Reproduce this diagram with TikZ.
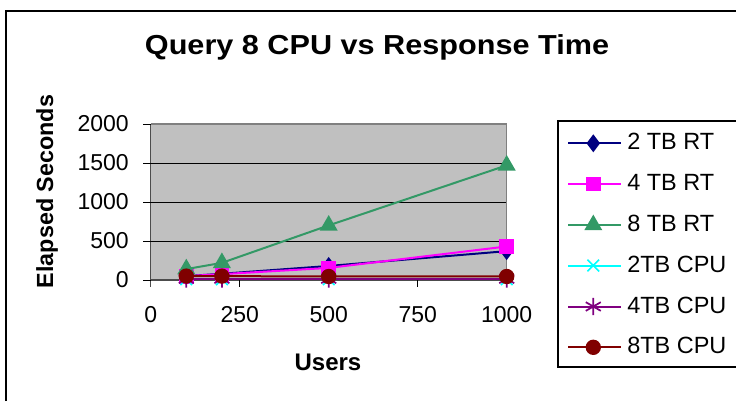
\documentclass[tikz,border=0pt]{standalone}
\usepackage{graphicx}
\usepackage{fontspec}
\setmainfont{Liberation Sans}
\usetikzlibrary{plotmarks}
\definecolor{cnavy}{HTML}{000080}
\definecolor{cmag}{HTML}{FF00FF}
\definecolor{cgreen}{HTML}{339966}
\definecolor{ccyan}{HTML}{00FFFF}
\definecolor{cpurple}{HTML}{800080}
\definecolor{cdred}{HTML}{800000}
\definecolor{plotgray}{HTML}{C0C0C0}
\definecolor{bordergray}{HTML}{808080}
\tikzset{
  ser/.style={line width=1.5pt, mark options={solid, line width=0.6pt}},
  sA/.style={ser, color=cnavy, mark=diamond*, mark size=5.5pt, mark options={fill=cnavy}},
  sB/.style={ser, color=cmag, mark=square*, mark size=4.8pt, mark options={fill=cmag}},
  sC/.style={ser, color=cgreen, mark=triangle*, mark size=6.3pt, mark options={fill=cgreen}},
  sD/.style={ser, color=ccyan, mark=x, mark size=6.2pt, mark options={line width=1.2pt}},
  sE/.style={ser, color=cpurple, mark=asterisk, mark size=6.5pt, mark options={line width=1.3pt}},
  sF/.style={ser, color=cdred, mark=*, mark size=5pt, mark options={fill=cdred}},
  ticklab/.style={font=\fontsize{17.25pt}{20pt}\selectfont, inner sep=0pt},
  legtext/.style={font=\fontsize{17.6pt}{20pt}\selectfont, inner sep=0pt, anchor=west},
  axtitle/.style={font=\fontsize{17.5pt}{20pt}\selectfont\bfseries, inner sep=0pt},
}
\begin{document}
\begin{tikzpicture}[x=0.75pt,y=-0.75pt]
\useasboundingbox (0,0) rectangle (736,401);
\fill[white] (0,0) rectangle (736,401);
% outer chart frame (clipped at right and bottom)
\draw[black, line width=0.8pt] (6,401) -- (6,11) -- (736,11);
% title
\node[anchor=base, inner sep=0pt, font=\fontsize{20.6pt}{24pt}\selectfont\bfseries] (title) at (377,54) {\scalebox{1.115}[1]{Query 8 CPU vs Response Time}};
% plot area
\fill[plotgray] (150.7,124) rectangle (506.7,280);
\foreach \yy in {163,202,241} \draw[black, line width=0.7pt] (150.7,\yy) -- (506.7,\yy);
\draw[bordergray, line width=0.8pt] (150.7,124) -- (506.7,124) -- (506.7,280);
% axes
\draw[black!70, line width=0.8pt] (150.7,124) -- (150.7,287);
\draw[black!70, line width=0.8pt] (150.7,280) -- (506.7,280);
\foreach \yy in {124,163,202,241,280} \draw[black, line width=0.7pt] (143,\yy) -- (150.7,\yy);
\foreach \xx in {239.7,328.7,417.7,506.7} \draw[black, line width=0.7pt] (\xx,280) -- (\xx,287);
% y tick labels
\node[ticklab, anchor=east] (y0) at (129,280) {0};
\node[ticklab, anchor=east] (y1) at (129,241) {500};
\node[ticklab, anchor=east] (y2) at (129,202) {1000};
\node[ticklab, anchor=east] (y3) at (129,163) {1500};
\node[ticklab, anchor=east] (y4) at (129,124) {2000};
% x tick labels
\node[ticklab] (x0) at (150.7,315) {0};
\node[ticklab] (x1) at (239.7,315) {250};
\node[ticklab] (x2) at (328.7,315) {500};
\node[ticklab] (x3) at (417.7,315) {750};
\node[ticklab] (x4) at (506.7,315) {1000};
% axis titles
\node[axtitle, rotate=90, anchor=base] (ytitle) at (53,191.5) {Elapsed Seconds};
\node[axtitle, anchor=base, font=\fontsize{18pt}{20pt}\selectfont\bfseries] (xtitle) at (328,370) {Users};
% data series
\begin{scope}[shift={(150.7,280)}, x=0.267pt, y=0.0585pt]
\draw[sA] plot coordinates {(100,50) (200,80) (500,180) (1000,370)};
\draw[sB] plot coordinates {(100,50) (200,75) (500,155) (1000,430)};
\draw[sC] plot coordinates {(100,140) (200,220) (500,700) (1000,1470)};
\draw[sD] plot coordinates {(100,10) (200,10) (500,10) (1000,10)};
\draw[sE] plot coordinates {(100,15) (200,15) (500,15) (1000,15)};
\draw[sF] plot coordinates {(100,50) (200,50) (500,45) (1000,45)};
\end{scope}
% legend
\draw[black, line width=0.8pt] (736,121) -- (558,121) -- (558,367) -- (736,367);
\draw[sA] (568,143.3) -- (621,143.3); \draw[sA] plot coordinates {(593.3,143.3)};
\draw[sB] (568,184) -- (621,184); \draw[sB] plot coordinates {(593.3,184)};
\draw[sC] (568,225) -- (621,225); \draw[sC] plot coordinates {(593.3,225)};
\draw[sD] (568,265.5) -- (621,265.5); \draw[sD] plot coordinates {(593.3,265.5)};
\draw[sE] (568,306.5) -- (621,306.5); \draw[sE] plot coordinates {(593.3,306.5)};
\draw[sF] (568,347.3) -- (621,347.3); \draw[sF] plot coordinates {(593.3,347.3)};
\node[legtext] (l1) at (627,141.8) {2 TB RT};
\node[legtext] (l2) at (627,182.5) {4 TB RT};
\node[legtext] (l3) at (627,223.5) {8 TB RT};
\node[legtext] (l4) at (627,264) {2TB CPU};
\node[legtext] (l5) at (627,305) {4TB CPU};
\node[legtext] (l6) at (627,345.8) {8TB CPU};
\end{tikzpicture}
\end{document}
